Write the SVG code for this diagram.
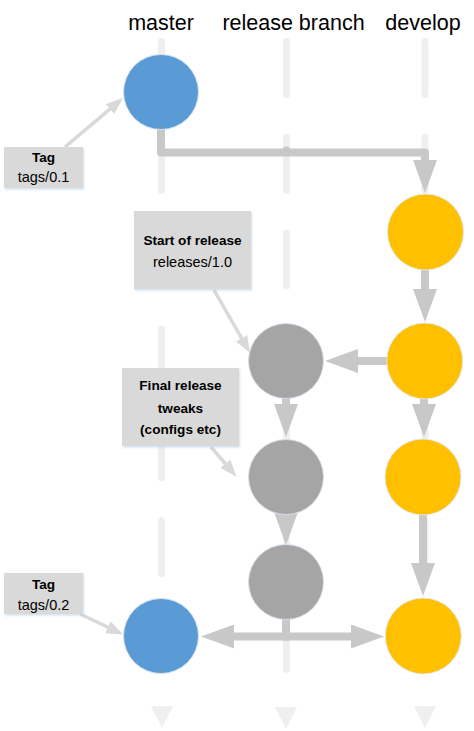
<svg xmlns="http://www.w3.org/2000/svg" width="474" height="731" viewBox="0 0 474 731">
  <defs>
    <style>
      .hdr { font-family: "Liberation Sans", Arial, sans-serif; font-size: 21.5px; fill: #000; text-anchor: middle; }
      .lane { stroke: #EFEFEF; stroke-width: 7; stroke-linecap: round; stroke-dasharray: 53 42.8; fill: none; }
      .tri { fill: #EFEFEF; }
      .conn { stroke: #C8C8C8; stroke-width: 8; fill: none; stroke-linejoin: round; }
      .callline { stroke: #D9D9D9; stroke-width: 3.5; fill: none; }
      .box { fill: #D9D9D9; filter: url(#shadow); }
      .b { font-family: "Liberation Sans", Arial, sans-serif; font-size: 13.6px; font-weight: bold; fill: #000; text-anchor: middle; }
      .r { font-family: "Liberation Sans", Arial, sans-serif; font-size: 14.5px; fill: #000; text-anchor: middle; }
      .blue { fill: #5B9BD5; stroke: #D6E2EE; stroke-width: 1; }
      .yellow { fill: #FFC000; stroke: #E3E6EA; stroke-width: 1; }
      .gray { fill: #A5A5A5; stroke: #D6E0EA; stroke-width: 1; }
    </style>
    <filter id="shadow" x="-10%" y="-10%" width="130%" height="130%">
      <feDropShadow dx="1" dy="1.5" stdDeviation="1" flood-color="#9DC3E6" flood-opacity="0.5"/>
    </filter>
    <marker id="ah" markerUnits="userSpaceOnUse" viewBox="0 0 33 24" markerWidth="33" markerHeight="24" refX="1" refY="12" orient="auto">
      <path d="M0,0 L33,12 L0,24 z" fill="#C8C8C8"/>
    </marker>
    <marker id="ahs" markerUnits="userSpaceOnUse" viewBox="0 0 17 13" markerWidth="17" markerHeight="13" refX="1" refY="6.5" orient="auto">
      <path d="M0,0 L17,6.5 L0,13 z" fill="#D9D9D9"/>
    </marker>
  </defs>
  <rect width="474" height="731" fill="#FFFFFF"/>

  <g id="headers">
    <text class="hdr" x="161" y="30">master</text>
    <text class="hdr" x="293.5" y="30">release branch</text>
    <text class="hdr" x="423" y="30">develop</text>
  </g>

  <g id="lanes">
    <path class="lane" d="M161.5,41.5 V670"/>
    <path class="lane" d="M286.5,41.5 V670"/>
    <path class="lane" d="M425,41.5 V670"/>
    <polygon class="tri" points="151,706 173,706 162,728"/>
    <polygon class="tri" points="275,707 297,707 286,729"/>
    <polygon class="tri" points="414,706 436,706 425,728"/>
  </g>

  <g id="connectors">
    <path class="conn" d="M161,125 V152.5 H425 V161" marker-end="url(#ah)"/>
    <circle cx="286.5" cy="151" r="4.5" fill="#C8C8C8"/>
    <path class="conn" d="M425,268 V290" marker-end="url(#ah)"/>
    <path class="conn" d="M390,361 H357" marker-end="url(#ah)"/>
    <path class="conn" d="M424,396 V405" marker-end="url(#ah)"/>
    <path class="conn" d="M286,396 V405" marker-end="url(#ah)"/>
    <path class="conn" d="M286,508 V513" marker-end="url(#ah)"/>
    <path class="conn" d="M423,512 V564" marker-end="url(#ah)"/>
    <path class="conn" d="M286,616 V636.5"/>
    <path class="conn" d="M290,636.5 H233" marker-end="url(#ah)"/>
    <path class="conn" d="M282,636.5 H352" marker-end="url(#ah)"/>
  </g>

  <g id="master-1"><circle class="blue" cx="161" cy="92" r="37.5"/></g>
  <g id="master-2"><circle class="blue" cx="161" cy="636" r="37.5"/></g>
  <g id="develop-1"><circle class="yellow" cx="425.5" cy="232" r="38"/></g>
  <g id="develop-2"><circle class="yellow" cx="424.7" cy="361" r="38"/></g>
  <g id="develop-3"><circle class="yellow" cx="423" cy="477" r="38"/></g>
  <g id="develop-4"><circle class="yellow" cx="423.3" cy="636" r="38"/></g>
  <g id="release-1"><circle class="gray" cx="286" cy="361" r="37.5"/></g>
  <g id="release-2"><circle class="gray" cx="286" cy="477" r="37.5"/></g>
  <g id="release-3"><circle class="gray" cx="286" cy="582" r="37.5"/></g>

  <g id="callout-connectors">
    <line class="callline" x1="65" y1="147" x2="110.8" y2="108.3" marker-end="url(#ahs)"/>
    <line class="callline" x1="214" y1="290" x2="242.1" y2="339.1" marker-end="url(#ahs)"/>
    <line class="callline" x1="211" y1="447" x2="226" y2="464.5" marker-end="url(#ahs)"/>
    <line class="callline" x1="80" y1="614" x2="108.8" y2="627.7" marker-end="url(#ahs)"/>
  </g>

  <g id="tag-1">
    <rect class="box" x="4" y="147" width="79" height="41"/>
    <text class="b" x="43.5" y="162">Tag</text>
    <text class="r" x="43.5" y="182">tags/0.1</text>
  </g>
  <g id="start-of-release">
    <rect class="box" x="134" y="211" width="117" height="78"/>
    <text class="b" x="192.5" y="245">Start of release</text>
    <text class="r" x="192.5" y="267">releases/1.0</text>
  </g>
  <g id="final-release-tweaks">
    <rect class="box" x="122" y="368" width="117" height="78"/>
    <text class="b" x="180.5" y="390">Final release</text>
    <text class="b" x="180.5" y="412.5">tweaks</text>
    <text class="b" x="180.5" y="434">(configs etc)</text>
  </g>
  <g id="tag-2">
    <rect class="box" x="4" y="573" width="79" height="41"/>
    <text class="b" x="43.5" y="588.5">Tag</text>
    <text class="r" x="43.5" y="610">tags/0.2</text>
  </g>
</svg>
